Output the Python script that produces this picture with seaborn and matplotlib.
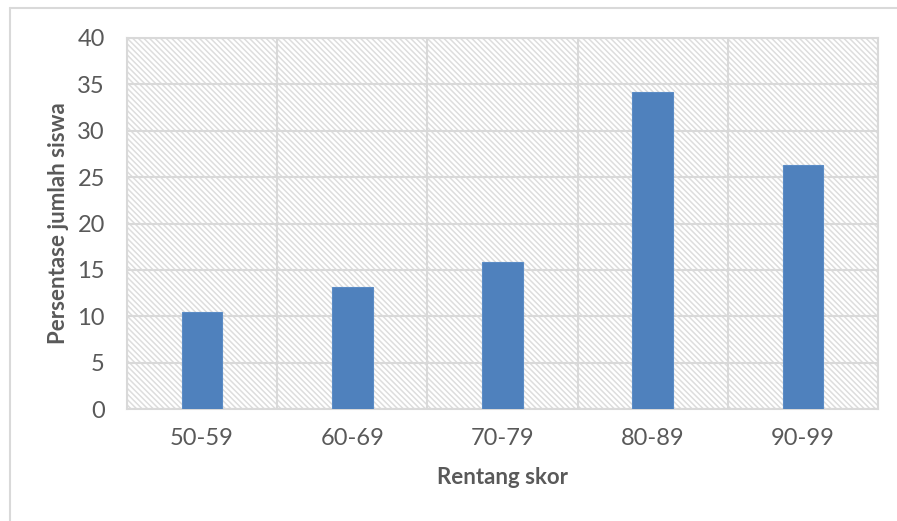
import matplotlib
matplotlib.use("Agg")
import matplotlib.pyplot as plt
from matplotlib.patches import Rectangle
from matplotlib.lines import Line2D
import seaborn as sns
import pandas as pd

categories = ["50-59", "60-69", "70-79", "80-89", "90-99"]
values = [10.5, 13.2, 15.8, 34.2, 26.3]
y_ticks = [0, 5, 10, 15, 20, 25, 30, 35, 40]
x_title = "Rentang skor"
y_title = "Persentase jumlah siswa"

sns.set_theme(style="white")
plt.rcParams["font.family"] = ["Lato", "DejaVu Sans"]
plt.rcParams["hatch.linewidth"] = 1.1
plt.rcParams["hatch.color"] = "#DDDDDD"

W, H = 897, 521
fig = plt.figure(figsize=(W / 100, H / 100), dpi=100)
L, R, T, B = 127, 878, 38, 409
ax = fig.add_axes([L / W, 1 - B / H, (R - L) / W, (B - T) / H])

df = pd.DataFrame({"cat": categories, "val": values})
sns.barplot(data=df, x="cat", y="val", ax=ax, color="#4F81BD", width=0.27,
            saturation=1, edgecolor="#5B8CC6", linewidth=0.8, zorder=3)

# hatched background
ax.patch.set_facecolor("white")
hatch = Rectangle((0, 0), 1, 1, transform=ax.transAxes, facecolor="white",
                  edgecolor="#DDDDDD", hatch="\\\\\\\\\\\\", linewidth=0, zorder=0)
ax.add_patch(hatch)

ax.set_ylim(0, 40)
ax.set_xlim(-0.5, len(categories) - 0.5)
ax.set_yticks(y_ticks)
ax.set_xticks(range(len(categories)))
ax.set_xticklabels(categories)

grid_c = "#D9D9D9"
for yv in y_ticks:
    ax.axhline(yv, color=grid_c, lw=1.5, zorder=1)
for xv in [i - 0.5 for i in range(len(categories) + 1)]:
    ax.axvline(xv, color=grid_c, lw=1.5, zorder=1)
for s in ax.spines.values():
    s.set_visible(True)
    s.set_color(grid_c)
    s.set_linewidth(1.5)

txt_c = "#595959"
ax.tick_params(axis="both", length=0, labelsize=17, labelcolor=txt_c)
ax.tick_params(axis="y", pad=16)
ax.tick_params(axis="x", pad=14)

ax.set_xlabel(x_title, fontsize=16, fontweight="bold", color=txt_c)
ax.set_ylabel(y_title, fontsize=16, fontweight="bold", color=txt_c)
ax.xaxis.label.set_va("center")
ax.yaxis.label.set_va("center")
ax.xaxis.set_label_coords(0.5, (B - 478) / (B - T))
ax.yaxis.set_label_coords((58 - L) / (R - L), 0.5)

# outer chart border (left and top visible)
fig.add_artist(Line2D([10 / W, 10 / W], [0, 1 - 8 / H], transform=fig.transFigure,
                      color=grid_c, lw=1.5))
fig.add_artist(Line2D([10 / W, 1], [1 - 8 / H, 1 - 8 / H], transform=fig.transFigure,
                      color=grid_c, lw=1.5))

fig.savefig("out.png", dpi=100, facecolor="white")
